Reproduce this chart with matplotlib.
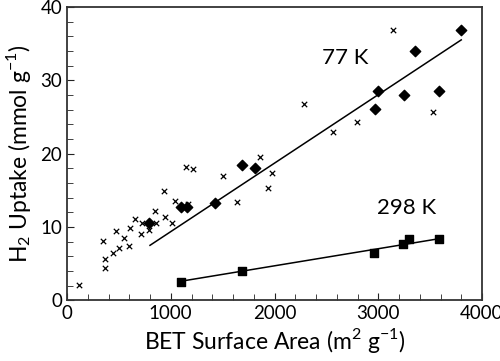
import numpy as np
import matplotlib.pyplot as plt
from matplotlib.ticker import MultipleLocator

plt.rcParams['font.family'] = ['Lato', 'DejaVu Sans']
plt.rcParams['mathtext.fontset'] = 'custom'
plt.rcParams['mathtext.rm'] = 'Lato'

# literature data, 77 K (crosses)
lit_x = [119, 344, 366, 366, 440, 472, 504, 552, 598, 604, 658, 713, 720, 793, 848,
         855, 932, 945, 1015, 1041, 1147, 1163, 1218, 1507, 1642, 1860, 1940, 1979,
         2288, 2561, 2795, 3145, 3531]
lit_y = [2.1, 8.15, 5.6, 4.35, 6.4, 9.5, 7.15, 8.5, 7.4, 9.8, 11.05, 9.1, 10.5, 9.6,
         12.15, 10.5, 14.9, 11.3, 10.5, 13.6, 18.2, 13.1, 17.9, 16.9, 13.4, 19.5, 15.3,
         17.4, 26.7, 22.9, 24.3, 36.8, 25.7]

# this work, 77 K (diamonds)
k77_x = [793, 1096, 1157, 1430, 1687, 1815, 2965, 3001, 3245, 3357, 3589, 3798]
k77_y = [10.6, 12.7, 12.7, 13.3, 18.5, 18.0, 26.1, 28.6, 27.95, 33.95, 28.6, 36.8]

# this work, 298 K (squares)
k298_x = [1096, 1687, 2962, 3242, 3296, 3585]
k298_y = [2.45, 4.0, 6.5, 7.7, 8.3, 8.3]

# trend lines
fit77_x, fit77_y = [800, 3800], [7.5, 35.5]
fit298_x, fit298_y = [1096, 3585], [2.6, 8.4]

fig = plt.figure(figsize=(5, 3.61), dpi=100)
ax = fig.add_axes([0.134, 0.168, 0.83, 0.813])

ax.plot(fit77_x, fit77_y, color='black', lw=1.1)
ax.plot(fit298_x, fit298_y, color='black', lw=1.1)
ax.scatter(lit_x, lit_y, marker='x', s=15, color='black', linewidths=0.9)
ax.scatter(k77_x, k77_y, marker='D', s=28, color='black')
ax.scatter(k298_x, k298_y, marker='s', s=26, color='black')

ax.text(2680, 33.0, '77 K', fontsize=16, ha='center', va='center')
ax.text(3274, 12.6, '298 K', fontsize=16, ha='center', va='center')

ax.set_xlim(0, 4000)
ax.set_ylim(0, 40)
ax.xaxis.set_major_locator(MultipleLocator(1000))
ax.xaxis.set_minor_locator(MultipleLocator(200))
ax.yaxis.set_major_locator(MultipleLocator(10))
ax.yaxis.set_minor_locator(MultipleLocator(2))
ax.tick_params(which='both', direction='in', labelsize=13.5, color='#222222')
ax.tick_params(which='major', length=5)
ax.tick_params(which='minor', length=4)
for s in ax.spines.values():
    s.set_linewidth(1.3)
    s.set_color('#333333')

ax.set_xlabel('BET Surface Area (m$^2$ g$^{-1}$)', fontsize=16.5, labelpad=3)
ax.set_ylabel('H$_2$ Uptake (mmol g$^{-1}$)', fontsize=16.5, labelpad=5)

fig.savefig('out.png', dpi=100)
